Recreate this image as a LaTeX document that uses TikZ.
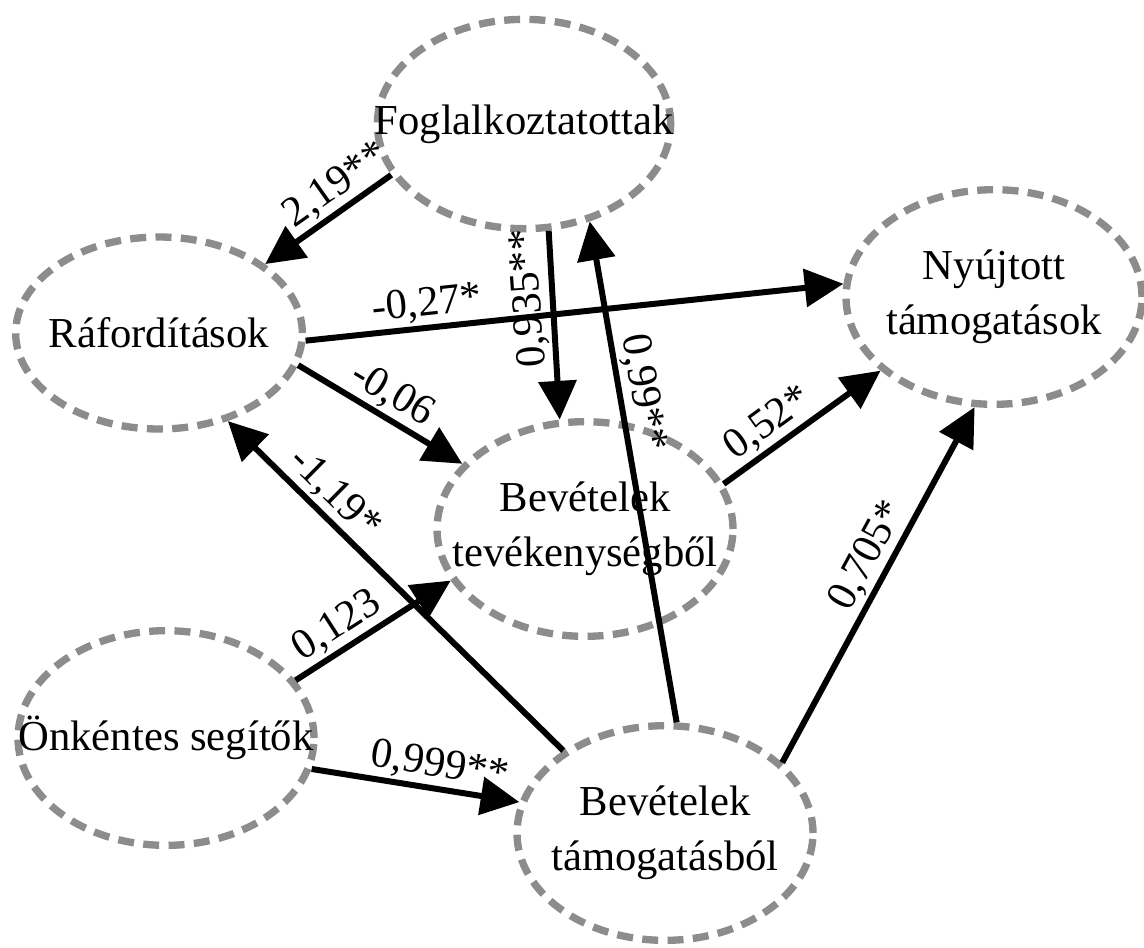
\documentclass[tikz,border=0pt]{standalone}
\usepackage{fontspec}
\setmainfont{Liberation Serif}
\usetikzlibrary{shapes.geometric,arrows.meta}

\definecolor{dashgray}{RGB}{140,140,140}
\tikzset{
    txt/.style={font=\fontsize{32}{41}\selectfont, align=center},
    latent/.style={ellipse, draw=dashgray, line width=5.5pt,
        dash pattern=on 12pt off 7pt, inner sep=0pt,
        minimum width=222pt, minimum height=161pt,
        label={[txt]center:{#1}}},
    effect/.style={-{Triangle[length=29pt,width=28pt]}, line width=4.5pt},
    coef/.style={txt, sloped, above, inner sep=2pt}
}

\begin{document}
\begin{tikzpicture}[x=0.75pt, y=-0.75pt]
    \useasboundingbox (0,0) rectangle (1144,947);
    \node (fog) [latent=Foglalkoztatottak, minimum width=220pt, minimum height=157pt] at (524,124) {};
    \node (raf) [latent=Ráfordítások, minimum width=215pt, minimum height=144pt] at (159,333) {};
    \node (nyu) [latent={Nyújtott\\támogatások}] at (994,297) {};
    \node (bevtev) [latent={Bevételek\\tevékenységből}] at (585,529) {};
    \node (onk) [latent={Önkéntes segítők}] at (166,738) {};
    \node (bevtam) [latent={Bevételek\\támogatásból}] at (665,833) {};
    \draw[effect] (fog.201) -- node[coef, pos=0.33] {2,19**} (raf.33);
    \draw[effect] (raf.-3) -- node[coef, pos=0.23] {-0,27*} (nyu.175);
    \draw[effect] (raf.-13) -- node[coef, pos=0.5] {-0,06} (bevtev.152);
    \draw[effect] (fog.283) -- node[txt, inner sep=2pt, pos=0.35, rotate=94, anchor=south] {0,935**} (bevtev.103);
    \draw[effect] (bevtam.84) -- node[coef, pos=0.65] {0,99**} (fog.304);
    \draw[effect] (bevtev.18) -- node[coef, pos=0.37] {0,52*} (nyu.213);
    \draw[effect] (bevtam.31) -- node[coef, pos=0.55] {0,705*} (nyu.260);
    \draw[effect] (bevtam.141) -- node[coef, pos=0.73] {-1,19*} (raf.308);
    \draw[effect] (onk.24) -- node[coef, pos=0.35] {0,123} (bevtev.201);
    \draw[effect] (onk.-12) -- node[coef, pos=0.6] {0,999**} (bevtam.168);
\end{tikzpicture}
\end{document}
